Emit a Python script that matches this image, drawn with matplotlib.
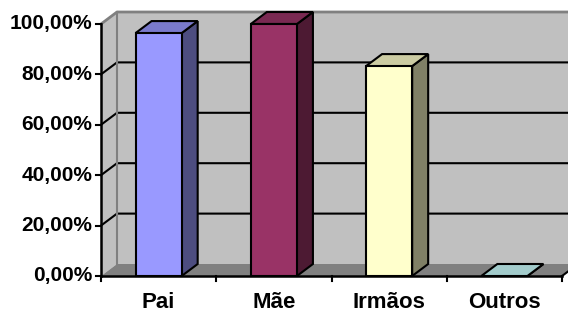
import matplotlib
matplotlib.use("Agg")
import matplotlib.pyplot as plt
from matplotlib.patches import Polygon

categories = ["Pai", "Mãe", "Irmãos", "Outros"]
values = [96.4, 100.0, 83.3, 0.0]
front_colors = ["#9999FF", "#993366", "#FFFFCC", "#CCFFFF"]
side_colors = ["#4D4D80", "#4D1A33", "#808066", "#668080"]
top_colors = ["#7A7ACC", "#7A2952", "#CCCCA3", "#A3CCCC"]
y_ticks = [0, 20, 40, 60, 80, 100]
y_labels = ["0,00%", "20,00%", "40,00%", "60,00%", "80,00%", "100,00%"]

W, H = 568, 311
fig = plt.figure(figsize=(W / 100, H / 100), dpi=100)
# front plane of the plot area, in pixels
x0, x1 = 101, 562
y0, y1 = 276, 24
ax = fig.add_axes([x0 / W, (H - y0) / H, (x1 - x0) / W, (y0 - y1) / H])
ax.set_xlim(0, len(categories))
ax.set_ylim(0, 100)
ax.axis("off")

px_x = (x1 - x0) / len(categories)   # pixels per category
px_y = (y0 - y1) / 100.0             # pixels per percent
OX = 16 / px_x                      # depth offset
OY = 12 / px_y
n = len(categories)
font = dict(family=["Liberation Sans", "DejaVu Sans"], fontweight="bold")


def poly(pts, fc, ec="none", lw=0, z=1):
    ax.add_patch(Polygon(pts, closed=True, facecolor=fc, edgecolor=ec,
                         linewidth=lw, zorder=z, clip_on=False, joinstyle="miter"))


# walls and floor
poly([(OX, OY), (n + OX, OY), (n + OX, 100 + OY), (OX, 100 + OY)], "#C0C0C0", z=1)
poly([(0, 0), (0, 100), (OX, 100 + OY), (OX, OY)], "#C0C0C0", z=1)
poly([(0, 0), (n, 0), (n + OX, OY), (OX, OY)], "#808080", z=1)

# gridlines
for g in y_ticks[1:-1]:
    ax.plot([0, OX, n + OX], [g, g + OY, g + OY], color="black", lw=1.5, zorder=2, clip_on=False)
# wall edges
ax.plot([0, OX, n + OX], [100, 100 + OY, 100 + OY], color="#808080", lw=2, zorder=2, clip_on=False)
ax.plot([OX, OX], [OY, 100 + OY], color="#808080", lw=1.5, zorder=2, clip_on=False)
ax.plot([n, n + OX], [0, OY], color="black", lw=1.5, zorder=2, clip_on=False)

# bars
bw = 0.4
for i, v in enumerate(values):
    c = i + 0.5
    L, R = c - bw / 2, c + bw / 2
    poly([(R, 0), (R, v), (R + OX, v + OY), (R + OX, OY)], side_colors[i], "black", 1.5, 3)
    poly([(L, v), (R, v), (R + OX, v + OY), (L + OX, v + OY)], top_colors[i], "black", 1.5, 3)
    if v > 0:
        poly([(L, 0), (R, 0), (R, v), (L, v)], front_colors[i], "black", 1.5, 4)

# axes lines and ticks
ax.plot([0, 0], [0, 100], color="black", lw=1.8, zorder=5, clip_on=False)
ax.plot([0, n], [0, 0], color="black", lw=1.8, zorder=5, clip_on=False)
tick_x = 5 / px_x
tick_y = 5 / px_y
for g, lab in zip(y_ticks, y_labels):
    ax.plot([-tick_x, 0], [g, g], color="black", lw=1.5, zorder=5, clip_on=False)
    ax.text(-9 / px_x, g, lab, ha="right", va="center", fontsize=15, **font)
for i in range(n + 1):
    ax.plot([i, i], [0, -tick_y], color="black", lw=1.5, zorder=5, clip_on=False)
for i, cat in enumerate(categories):
    ax.text(i + 0.5, -26 / px_y, cat, ha="center", va="center", fontsize=16, **font)

fig.savefig("out.png", dpi=100)
